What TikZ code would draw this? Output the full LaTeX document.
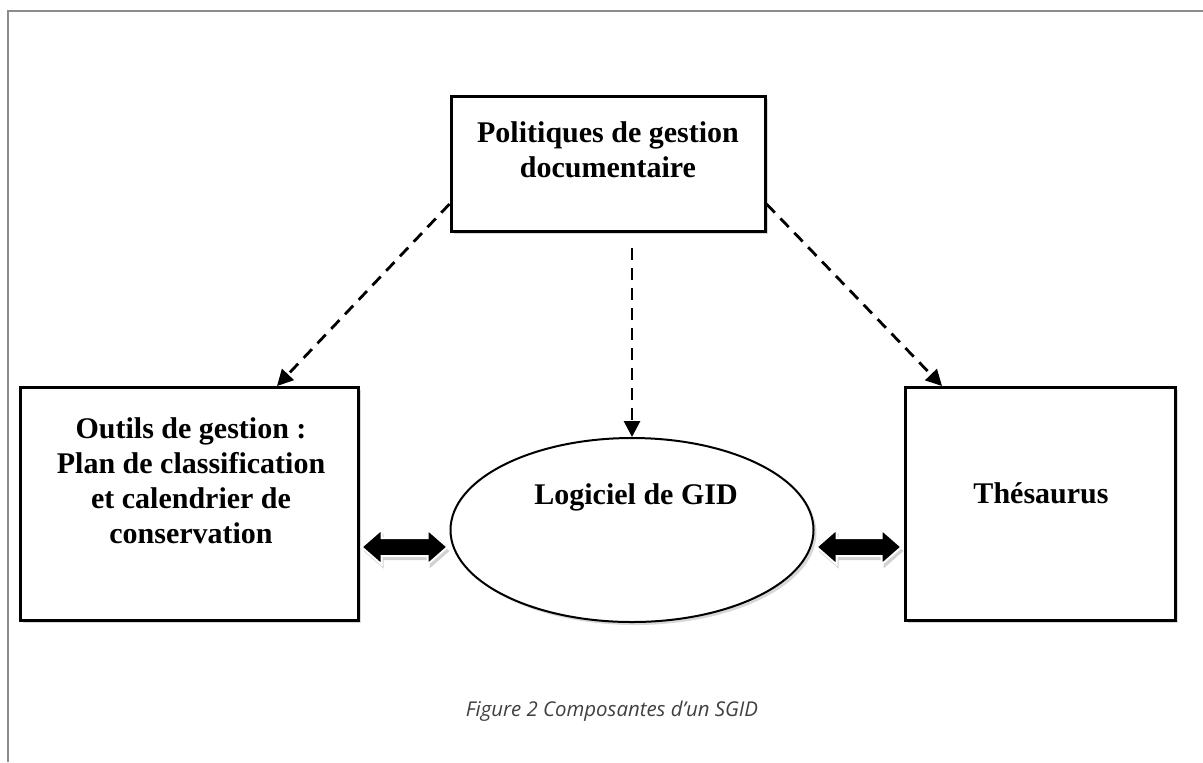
\documentclass[tikz,border=0pt]{standalone}
\usepackage{fontspec}
\setmainfont{Liberation Serif}
\newfontfamily\capfont{Open Sans}
\usetikzlibrary{arrows.meta,shapes.geometric,shadows,calc}
\begin{document}
\begin{tikzpicture}[x=0.5pt,y=-0.5pt,
  box/.style={draw,line width=1.5pt,fill=white,inner sep=0,drop shadow={opacity=0.3,shadow xshift=1.5pt,shadow yshift=-1.5pt}},
  txt/.style={align=center,inner sep=0,anchor=north,font=\bfseries\fontsize{15}{17.5}\selectfont},
  dasharrow/.style={line width=1.4pt,dash pattern=on 6pt off 4pt,-{Triangle[length=8pt,width=8pt]}},
  dbl/.style={fill=black,draw=white,line width=1pt,drop shadow={opacity=0.35,shadow xshift=1pt,shadow yshift=-2pt}},
  captxt/.style={inner sep=0,text=black!75,font=\capfont\itshape\fontsize{10.2}{12}\selectfont}]
\useasboundingbox (0,0) rectangle (1203,762);
\fill[white] (0,0) rectangle (1203,762);
\draw[black!45,line width=1pt] (8,762) -- (8,11) -- (1203,11);
% boxes
\node[box,minimum width=157pt,minimum height=67.5pt] (T) at (608,163.5) {};
\node[txt] (Tt) at (608,121) {Politiques de gestion\\documentaire};
\node[box,minimum width=169pt,minimum height=116.5pt] (L) at (189,503.5) {};
\node[txt] (Lt) at (191,417.5) {Outils de gestion :\\Plan de classification\\et calendrier de\\conservation};
\node[box,minimum width=135pt,minimum height=116.5pt] (R) at (1040,503.5) {};
\node[txt] (Rt) at (1041,482) {Thésaurus};
\node[draw,ellipse,line width=1pt,fill=white,minimum width=181.5pt,minimum height=92pt,inner sep=0,drop shadow={opacity=0.3,shadow xshift=1.5pt,shadow yshift=-1.5pt}] (E) at (632,530) {};
\node[txt] (Et) at (636,483) {Logiciel de GID};
% dashed arrows
\coordinate (s1) at (T.west |- 0,204);
\coordinate (s2) at (T.east |- 0,204);
\coordinate (m1) at (E.north |- 0,248);
\coordinate (e1) at (277,386);
\coordinate (e2) at (942,386);
\draw[dasharrow] (s1) -- (e1);
\draw[dasharrow] (m1) -- (E.north);
\draw[dasharrow] (s2) -- (e2);
% double arrows
\coordinate (a1) at (L.east |- 0,547);
\coordinate (a2) at (E.west |- 0,547);
\coordinate (b1) at (E.east |- 0,547);
\coordinate (b2) at (R.west |- 0,547);
\path let \p1=(a1), \p2=(a2) in [dbl] (\x1+1pt,\y1) -- (\x1+11pt,\y1+8.75pt) -- (\x1+11pt,\y1+4.5pt) -- (\x2-11pt,\y1+4.5pt) -- (\x2-11pt,\y1+8.75pt) -- (\x2-1pt,\y1) -- (\x2-11pt,\y1-8.75pt) -- (\x2-11pt,\y1-4.5pt) -- (\x1+11pt,\y1-4.5pt) -- (\x1+11pt,\y1-8.75pt) -- cycle;
\path let \p1=(b1), \p2=(b2) in [dbl] (\x1+1pt,\y1) -- (\x1+11pt,\y1+8.75pt) -- (\x1+11pt,\y1+4.5pt) -- (\x2-11pt,\y1+4.5pt) -- (\x2-11pt,\y1+8.75pt) -- (\x2-1pt,\y1) -- (\x2-11pt,\y1-8.75pt) -- (\x2-11pt,\y1-4.5pt) -- (\x1+11pt,\y1-4.5pt) -- (\x1+11pt,\y1-8.75pt) -- cycle;
\node[captxt] (C) at (612,711) {Figure 2 Composantes d’un SGID};
\end{tikzpicture}
\end{document}
